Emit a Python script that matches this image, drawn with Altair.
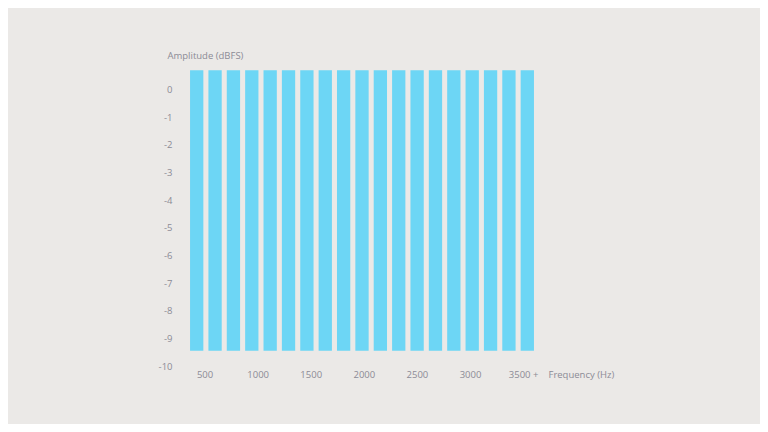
import altair as alt
import pandas as pd

# Data
bar_index = list(range(1, 20))
bar_top = [0.7] * 19
bar_base = [-9.45] * 19
freq_ticks = [500, 1000, 1500, 2000, 2500, 3000, 3500]
amp_ticks = [0, -1, -2, -3, -4, -5, -6, -7, -8, -9, -10]

bars_df = pd.DataFrame({"bar": bar_index, "top": bar_top, "base": bar_base})
ticks_df = pd.DataFrame({"freq": freq_ticks})

TEXT = "#8b8b96"
FONT = "Open Sans"

yscale = alt.Scale(domain=[-10, 1], nice=False, zero=False)

bars = alt.Chart(bars_df).mark_bar(color="#6dd6f5").encode(
    x=alt.X("bar:O", axis=None,
            scale=alt.Scale(paddingInner=0.276, paddingOuter=0.547)),
    y=alt.Y("top:Q", scale=yscale,
            axis=alt.Axis(values=amp_ticks, title="Amplitude (dBFS)",
                          labelExpr="'' + datum.value",
                          titleAngle=0, titleX=-13, titleY=-7,
                          titleAlign="left", titleBaseline="middle",
                          titleAnchor="start",
                          labelPadding=8, tickSize=0, ticks=False,
                          domain=False, grid=False)),
    y2="base:Q",
)

axis_layer = alt.Chart(ticks_df).mark_point(opacity=0).encode(
    x=alt.X("freq:Q", scale=alt.Scale(domain=[269, 3697], nice=False, zero=False),
            axis=alt.Axis(values=freq_ticks, title="Frequency (Hz)",
                          labelExpr="datum.value == 3500 ? '3500 +' : '' + datum.value",
                          titleX=368, titleY=8, titleAlign="left",
                          titleBaseline="middle", titleAnchor="start",
                          labelBaseline="middle", labelPadding=8,
                          tickSize=0, ticks=False, domain=False, grid=False,
                          labelFlush=False, labelOverlap=False)),
    y=alt.Y("freq:Q", axis=None),
)

chart = alt.layer(bars, axis_layer).resolve_scale(
    x="independent", y="independent"
).properties(
    width=364, height=304,
    autosize=alt.AutoSizeParams(type="none"),
    padding={"left": 172, "top": 54, "right": 216, "bottom": 58},
    background="#ebe9e7",
).configure_view(stroke=None).configure_axis(
    labelFont=FONT, titleFont=FONT, labelFontSize=9.5, titleFontSize=9.5,
    labelColor=TEXT, titleColor=TEXT, titleFontWeight="normal",
)

chart.save("out.html", embed_options={"renderer": "svg", "actions": False})
